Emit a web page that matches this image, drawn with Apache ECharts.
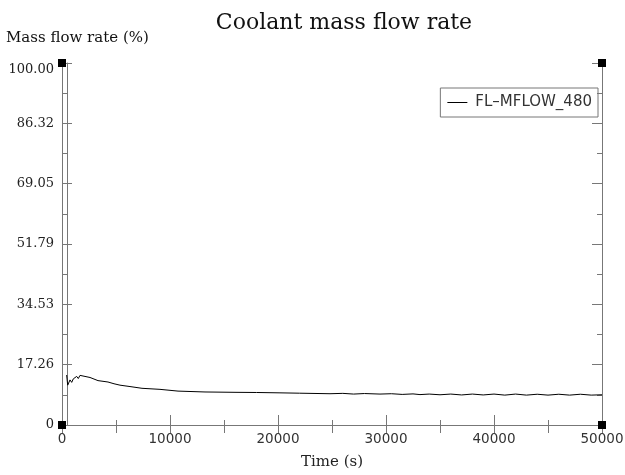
<!DOCTYPE html>
<html>
<head>
<meta charset="utf-8">
<script src="https://cdn.jsdelivr.net/npm/echarts@6/dist/echarts.min.js"></script>
<style>
  html, body { margin: 0; padding: 0; background: #fff; }
  #chart { width: 625px; height: 475px; }
</style>
</head>
<body>
<div id="chart"></div>
<script>
// 数据
var chartTitle = 'Coolant mass flow rate';
var yName = 'Mass flow rate (%)';
var xName = 'Time (s)';
var seriesName = 'FL\u2013MFLOW_480';

var yMax = 103.58;           // 轴顶 (6 * 17.263)
var yStep = 17.263;
var yTickLabels = ['0', '17.26', '34.53', '51.79', '69.05', '86.32', '100.00'];
var xMax = 50000;
var xStep = 10000;

var timeS = [430, 528, 741, 898, 1046, 1204, 1361, 1509, 1667, 1852, 2593, 3333, 4259, 4815,
  5370, 6296, 7407, 9074, 10741, 13241, 16019, 18000, 20185, 22000, 24815, 26000, 27000, 28000,
  29444, 30500, 31500, 32500, 33148, 34000, 35000, 36000, 37000, 38000, 39000, 40000, 41000,
  42000, 43000, 44000, 45000, 46000, 47000, 48000, 49000, 50000];
var flowPct = [14.3, 11.4, 12.9, 12.2, 13.2, 12.7, 13.9, 13.3, 14.2, 14.1, 13.6, 12.7, 12.3, 11.8,
  11.4, 11.0, 10.5, 10.2, 9.7, 9.45, 9.35, 9.3, 9.2, 9.1, 8.95, 9.05, 8.85, 9.0,
  8.85, 8.95, 8.75, 8.9, 8.7, 8.85, 8.65, 8.85, 8.6, 8.85, 8.6, 8.85, 8.55,
  8.85, 8.55, 8.8, 8.55, 8.8, 8.55, 8.8, 8.55, 8.65];

var lineData = timeS.map(function (t, i) { return [t, flowPct[i]]; });
var corners = [[0, 0], [xMax, 0], [0, yMax], [xMax, yMax]];

var axisGray = '#777';
var serif = 'DejaVu Serif';
var sans = 'DejaVu Sans';

var chart = echarts.init(document.getElementById('chart'));
chart.setOption({
  backgroundColor: '#fff',
  animation: false,
  title: [
    {
      text: chartTitle,
      left: 339,
      textAlign: 'center',
      top: 7,
      textStyle: { fontFamily: serif, fontSize: 22, fontWeight: 'normal', color: '#111' }
    },
    {
      text: yName,
      left: 6,
      top: 31,
      padding: 0,
      textStyle: { fontFamily: serif, fontSize: 15, fontWeight: 'normal', color: '#111' }
    }
  ],
  legend: {
    right: 27,
    top: 88,
    orient: 'vertical',
    borderColor: axisGray,
    borderWidth: 1,
    borderRadius: 0,
    padding: [7, 6, 7, 7],
    icon: 'rect',
    itemWidth: 20,
    itemHeight: 1,
    itemGap: 8,
    textStyle: { fontFamily: sans, fontSize: 15, color: '#333', padding: [0, 0, 0, 3] },
    data: [{ name: seriesName }]
  },
  grid: { left: 62, right: 23, top: 63, bottom: 50, outerBoundsMode: 'none', containLabel: false },
  xAxis: [
    {
      type: 'value',
      position: 'bottom',
      min: 0,
      max: xMax,
      interval: xStep,
      name: xName,
      nameLocation: 'middle',
      nameGap: 30,
      nameTextStyle: { fontFamily: serif, fontSize: 15, color: '#222' },
      axisLine: { lineStyle: { color: axisGray, width: 1 } },
      axisTick: { inside: true, length: 10, lineStyle: { color: axisGray } },
      minorTick: { show: true, splitNumber: 2, length: 5, lineStyle: { color: axisGray } },
      axisLabel: {
        margin: 7, fontFamily: sans, fontSize: 13.5, color: '#333',
        formatter: function (v) { return String(v); }
      },
      splitLine: { show: false }
    },
    {
      type: 'value',
      position: 'top',
      min: 0,
      max: xMax,
      interval: xStep,
      axisLine: { lineStyle: { color: axisGray, width: 1 } },
      axisTick: { inside: true, length: 8, lineStyle: { color: axisGray } },
      minorTick: { show: true, splitNumber: 2, length: 8, lineStyle: { color: axisGray } },
      axisLabel: { show: false },
      splitLine: { show: false }
    }
  ],
  yAxis: [
    {
      type: 'value',
      position: 'left',
      min: 0,
      max: yMax,
      interval: yStep,
      axisLine: { lineStyle: { color: axisGray, width: 1 } },
      axisTick: { inside: true, length: 10, lineStyle: { color: axisGray } },
      minorTick: { show: true, splitNumber: 2, length: 5, lineStyle: { color: axisGray } },
      axisLabel: {
        margin: 8,
        fontFamily: serif,
        fontSize: 13,
        color: '#222',
        formatter: function (v) {
          var idx = Math.round(v / yStep);
          if (idx === yTickLabels.length - 1) return '{top|' + yTickLabels[idx] + '}';
          return yTickLabels[idx];
        },
        rich: {
          top: { fontFamily: serif, fontSize: 13, color: '#222', padding: [14, 0, 0, 0] }
        }
      },
      splitLine: { show: false }
    },
    {
      // 左侧窄框
      type: 'value',
      position: 'left',
      offset: -5,
      min: 0,
      max: yMax,
      interval: yStep,
      axisLine: { lineStyle: { color: axisGray, width: 1 } },
      axisTick: { show: false },
      axisLabel: { show: false },
      splitLine: { show: false }
    },
    {
      type: 'value',
      position: 'right',
      min: 0,
      max: yMax,
      interval: yStep,
      axisLine: { lineStyle: { color: axisGray, width: 1 } },
      axisTick: { inside: true, length: 10, lineStyle: { color: axisGray } },
      minorTick: { show: true, splitNumber: 2, length: 5, lineStyle: { color: axisGray } },
      axisLabel: { show: false },
      splitLine: { show: false }
    }
  ],
  series: [
    {
      name: seriesName,
      type: 'line',
      xAxisIndex: 0,
      yAxisIndex: 0,
      showSymbol: false,
      symbol: 'none',
      lineStyle: { color: '#000', width: 1 },
      itemStyle: { color: '#000' },
      data: lineData
    },
    {
      name: 'corners',
      type: 'scatter',
      xAxisIndex: 0,
      yAxisIndex: 0,
      symbol: 'rect',
      symbolSize: 8,
      clip: false,
      z: 10,
      itemStyle: { color: '#000', opacity: 1 },
      data: corners
    }
  ]
});
</script>
</body>
</html>
